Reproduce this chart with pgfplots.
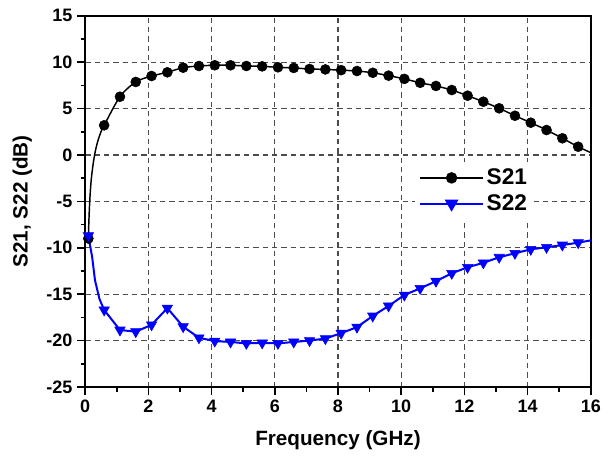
\documentclass[border=0pt]{standalone}
\usepackage{fontspec}
\setmainfont{Liberation Sans}
\usepackage{pgfplots}
\pgfplotsset{compat=1.18}

\begin{document}
\begin{tikzpicture}
\useasboundingbox (-63.9pt,-54pt) rectangle (394.35pt,290.25pt);
\begin{axis}[
  at={(0,0)}, anchor=south west,
  scale only axis, width=379.2pt, height=278.4pt,
  xmin=0, xmax=16, ymin=-25, ymax=15,
  xtick={0,2,...,16}, ytick={-25,-20,...,15},
  minor x tick num=1, minor y tick num=1,
  tick align=outside, xtick pos=bottom, ytick pos=left,
  major tick length=6pt, minor tick length=3.5pt,
  axis line style={line width=1.5pt},
  every tick/.style={black, line width=1.1pt},
  xmajorgrids, ymajorgrids,
  grid style={black!70, line width=0.8pt, dash pattern=on 4pt off 3pt},
  tick label style={font=\fontsize{13.5}{15}\selectfont\bfseries},
  /pgf/number format/assume math mode=true,
  xlabel={Frequency (GHz)}, ylabel={S21, S22 (dB)},
  label style={font=\fontsize{15.5}{18}\selectfont\bfseries},
  xlabel style={yshift=-7pt},
  ylabel style={yshift=4pt},
  legend style={at={(0.652,0.606)}, anchor=north west, draw=none, fill=white,
    font=\fontsize{17}{19}\selectfont\bfseries, row sep=2pt, inner sep=3pt},
  legend cell align=left,
  legend image code/.code={\draw[#1, mark repeat=2, mark phase=2]
    plot coordinates {(0pt,0pt) (23.6pt,0pt) (47.2pt,0pt)};},
]
% S21 curve
\addplot[black, line width=1.1pt, smooth, forget plot] coordinates {
(0.1,-9.0) (0.12,-6.8) (0.15,-4.6) (0.19,-2.7) (0.25,-1.0) (0.32,0.4)
(0.4,1.5) (0.5,2.5) (0.6,3.2) (1.1,6.28) (1.6,7.87) (2.1,8.51) (2.6,8.91)
(3.1,9.41) (3.6,9.59) (4.1,9.67) (4.6,9.67) (5.1,9.59) (5.6,9.55) (6.1,9.45)
(6.6,9.38) (7.1,9.27) (7.6,9.22) (8.1,9.14) (8.6,9.05) (9.1,8.86) (9.6,8.55)
(10.1,8.2) (10.6,7.78) (11.1,7.44) (11.6,7.0) (12.1,6.39) (12.6,5.74)
(13.1,5.03) (13.6,4.23) (14.1,3.48) (14.6,2.69) (15.1,1.8) (15.6,0.89) (16,0.25)};
\addplot[black, only marks, mark=*, mark size=3.75pt, forget plot] coordinates {
(0.1,-9.0) (0.6,3.2) (1.1,6.28) (1.6,7.87) (2.1,8.51) (2.6,8.91)
(3.1,9.41) (3.6,9.59) (4.1,9.67) (4.6,9.67) (5.1,9.59) (5.6,9.55) (6.1,9.45)
(6.6,9.38) (7.1,9.27) (7.6,9.22) (8.1,9.14) (8.6,9.05) (9.1,8.86) (9.6,8.55)
(10.1,8.2) (10.6,7.78) (11.1,7.44) (11.6,7.0) (12.1,6.39) (12.6,5.74)
(13.1,5.03) (13.6,4.23) (14.1,3.48) (14.6,2.69) (15.1,1.8) (15.6,0.89)};
% S22 curve
\addplot[blue, line width=1.5pt, forget plot] coordinates {
(0.1,-8.7) (0.22,-11.0) (0.31,-13.5) (0.45,-15.5) (0.6,-16.7) (1.1,-18.86)
(1.6,-19.04) (2.1,-18.3) (2.6,-16.5) (3.1,-18.5) (3.6,-19.7) (4.1,-20.05)
(4.6,-20.15) (5.1,-20.3) (5.6,-20.25) (6.1,-20.3) (6.6,-20.15) (7.1,-20.0)
(7.6,-19.78) (8.1,-19.2) (8.6,-18.55) (9.1,-17.35) (9.6,-16.27) (10.1,-15.09)
(10.6,-14.37) (11.1,-13.6) (11.6,-12.75) (12.1,-12.1) (12.6,-11.62)
(13.1,-11.02) (13.6,-10.59) (14.1,-10.16) (14.6,-9.95) (15.1,-9.7)
(15.6,-9.45) (16,-9.2)};
\addplot[blue, only marks, mark=triangle*, mark size=4.5pt,
  mark options={rotate=180}, forget plot] coordinates {
(0.1,-8.7) (0.6,-16.7) (1.1,-18.86) (1.6,-19.04) (2.1,-18.3) (2.6,-16.5)
(3.1,-18.5) (3.6,-19.7) (4.1,-20.05) (4.6,-20.15) (5.1,-20.3) (5.6,-20.25)
(6.1,-20.3) (6.6,-20.15) (7.1,-20.0) (7.6,-19.78) (8.1,-19.2) (8.6,-18.55)
(9.1,-17.35) (9.6,-16.27) (10.1,-15.09) (10.6,-14.37) (11.1,-13.6)
(11.6,-12.75) (12.1,-12.1) (12.6,-11.62) (13.1,-11.02) (13.6,-10.59)
(14.1,-10.16) (14.6,-9.95) (15.1,-9.7) (15.6,-9.45)};
\addlegendimage{black, line width=1.1pt, mark=*, mark size=3.75pt}
\addlegendentry{S21}
\addlegendimage{blue, line width=1.5pt, mark=triangle*, mark size=4.5pt, mark options={rotate=180}}
\addlegendentry{S22}
\end{axis}
\end{tikzpicture}
\end{document}
